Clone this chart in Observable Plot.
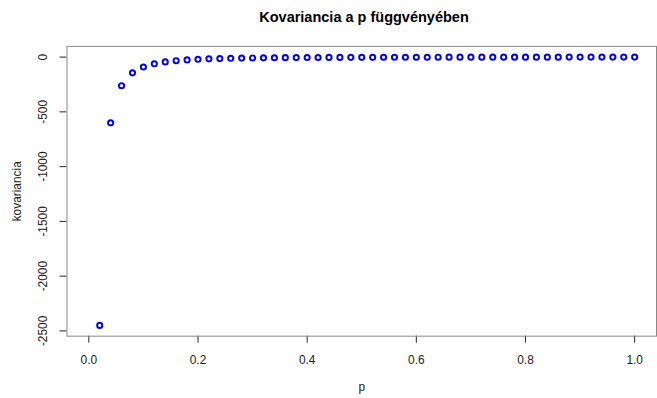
<!DOCTYPE html>
<html>
<head>
<meta charset="utf-8">
<script src="https://cdn.jsdelivr.net/npm/d3@7"></script>
<script src="https://cdn.jsdelivr.net/npm/@observablehq/plot@0.6"></script>
<style>
html, body { margin: 0; padding: 0; background: #fff; overflow: hidden; width: 657px; height: 398px; }
#title { height: 30px; width: 728px; text-align: center; font-family: "Liberation Sans", Arial, sans-serif; font-weight: bold; font-size: 14.5px; line-height: 34px; color: #000; }
#chart svg { display: block; }
</style>
</head>
<body>
<div id="title">Kovariancia a p függvényében</div>
<div id="chart"></div>
<script>
const p = [0.02,0.04,0.06,0.08,0.10,0.12,0.14,0.16,0.18,0.20,
           0.22,0.24,0.26,0.28,0.30,0.32,0.34,0.36,0.38,0.40,
           0.42,0.44,0.46,0.48,0.50,0.52,0.54,0.56,0.58,0.60,
           0.62,0.64,0.66,0.68,0.70,0.72,0.74,0.76,0.78,0.80,
           0.82,0.84,0.86,0.88,0.90,0.92,0.94,0.96,0.98,1.00];
const kovariancia = [-2450,-600,-261.1,-143.75,-90,-61.1,-43.9,-32.8,-25.3,-20,
           -16.1,-13.2,-10.9,-9.2,-7.8,-6.6,-5.7,-4.9,-4.3,-3.75,
           -3.3,-2.9,-2.55,-2.26,-2,-1.78,-1.58,-1.40,-1.25,-1.11,
           -0.99,-0.88,-0.78,-0.69,-0.61,-0.54,-0.47,-0.42,-0.36,-0.31,
           -0.27,-0.23,-0.19,-0.15,-0.12,-0.09,-0.07,-0.04,-0.02,0];
const xTicks = [0, 0.2, 0.4, 0.6, 0.8, 1.0];
const yTicks = [0, -500, -1000, -1500, -2000, -2500];

const data = p.map((v, i) => ({p: v, k: kovariancia[i]}));

const chart = Plot.plot({
  width: 662,
  height: 368,
  marginLeft: 67,
  marginRight: 1,
  marginTop: 16,
  marginBottom: 60,
  style: {fontFamily: "'Liberation Sans', Arial, sans-serif", fontSize: "12px", color: "#222", background: "#fff"},
  x: {domain: [-0.04, 1.04], ticks: xTicks, tickFormat: d3.format(".1f"), tickSize: 7, tickPadding: 13, label: "p", labelArrow: "none", labelAnchor: "center", labelOffset: 55},
  y: {domain: [-2548, 98], ticks: yTicks, tickFormat: d => String(d), tickSize: 7, tickRotate: -90, tickPadding: 13, label: "kovariancia", labelArrow: "none", labelAnchor: "center", labelOffset: 55},
  marks: [
    Plot.frame({stroke: "#888"}),
    Plot.dot(data, {x: "p", y: "k", r: 2.6, stroke: "#0000ff", strokeWidth: 2, fill: "none"})
  ]
});
chart.querySelectorAll("text").forEach(t => {
  if (/[→←↑↓]/.test(t.textContent)) t.textContent = t.textContent.replace(/\s*[→←↑↓]\s*/g, "").trim();
});
document.getElementById("chart").appendChild(chart);
</script>
</body>
</html>
